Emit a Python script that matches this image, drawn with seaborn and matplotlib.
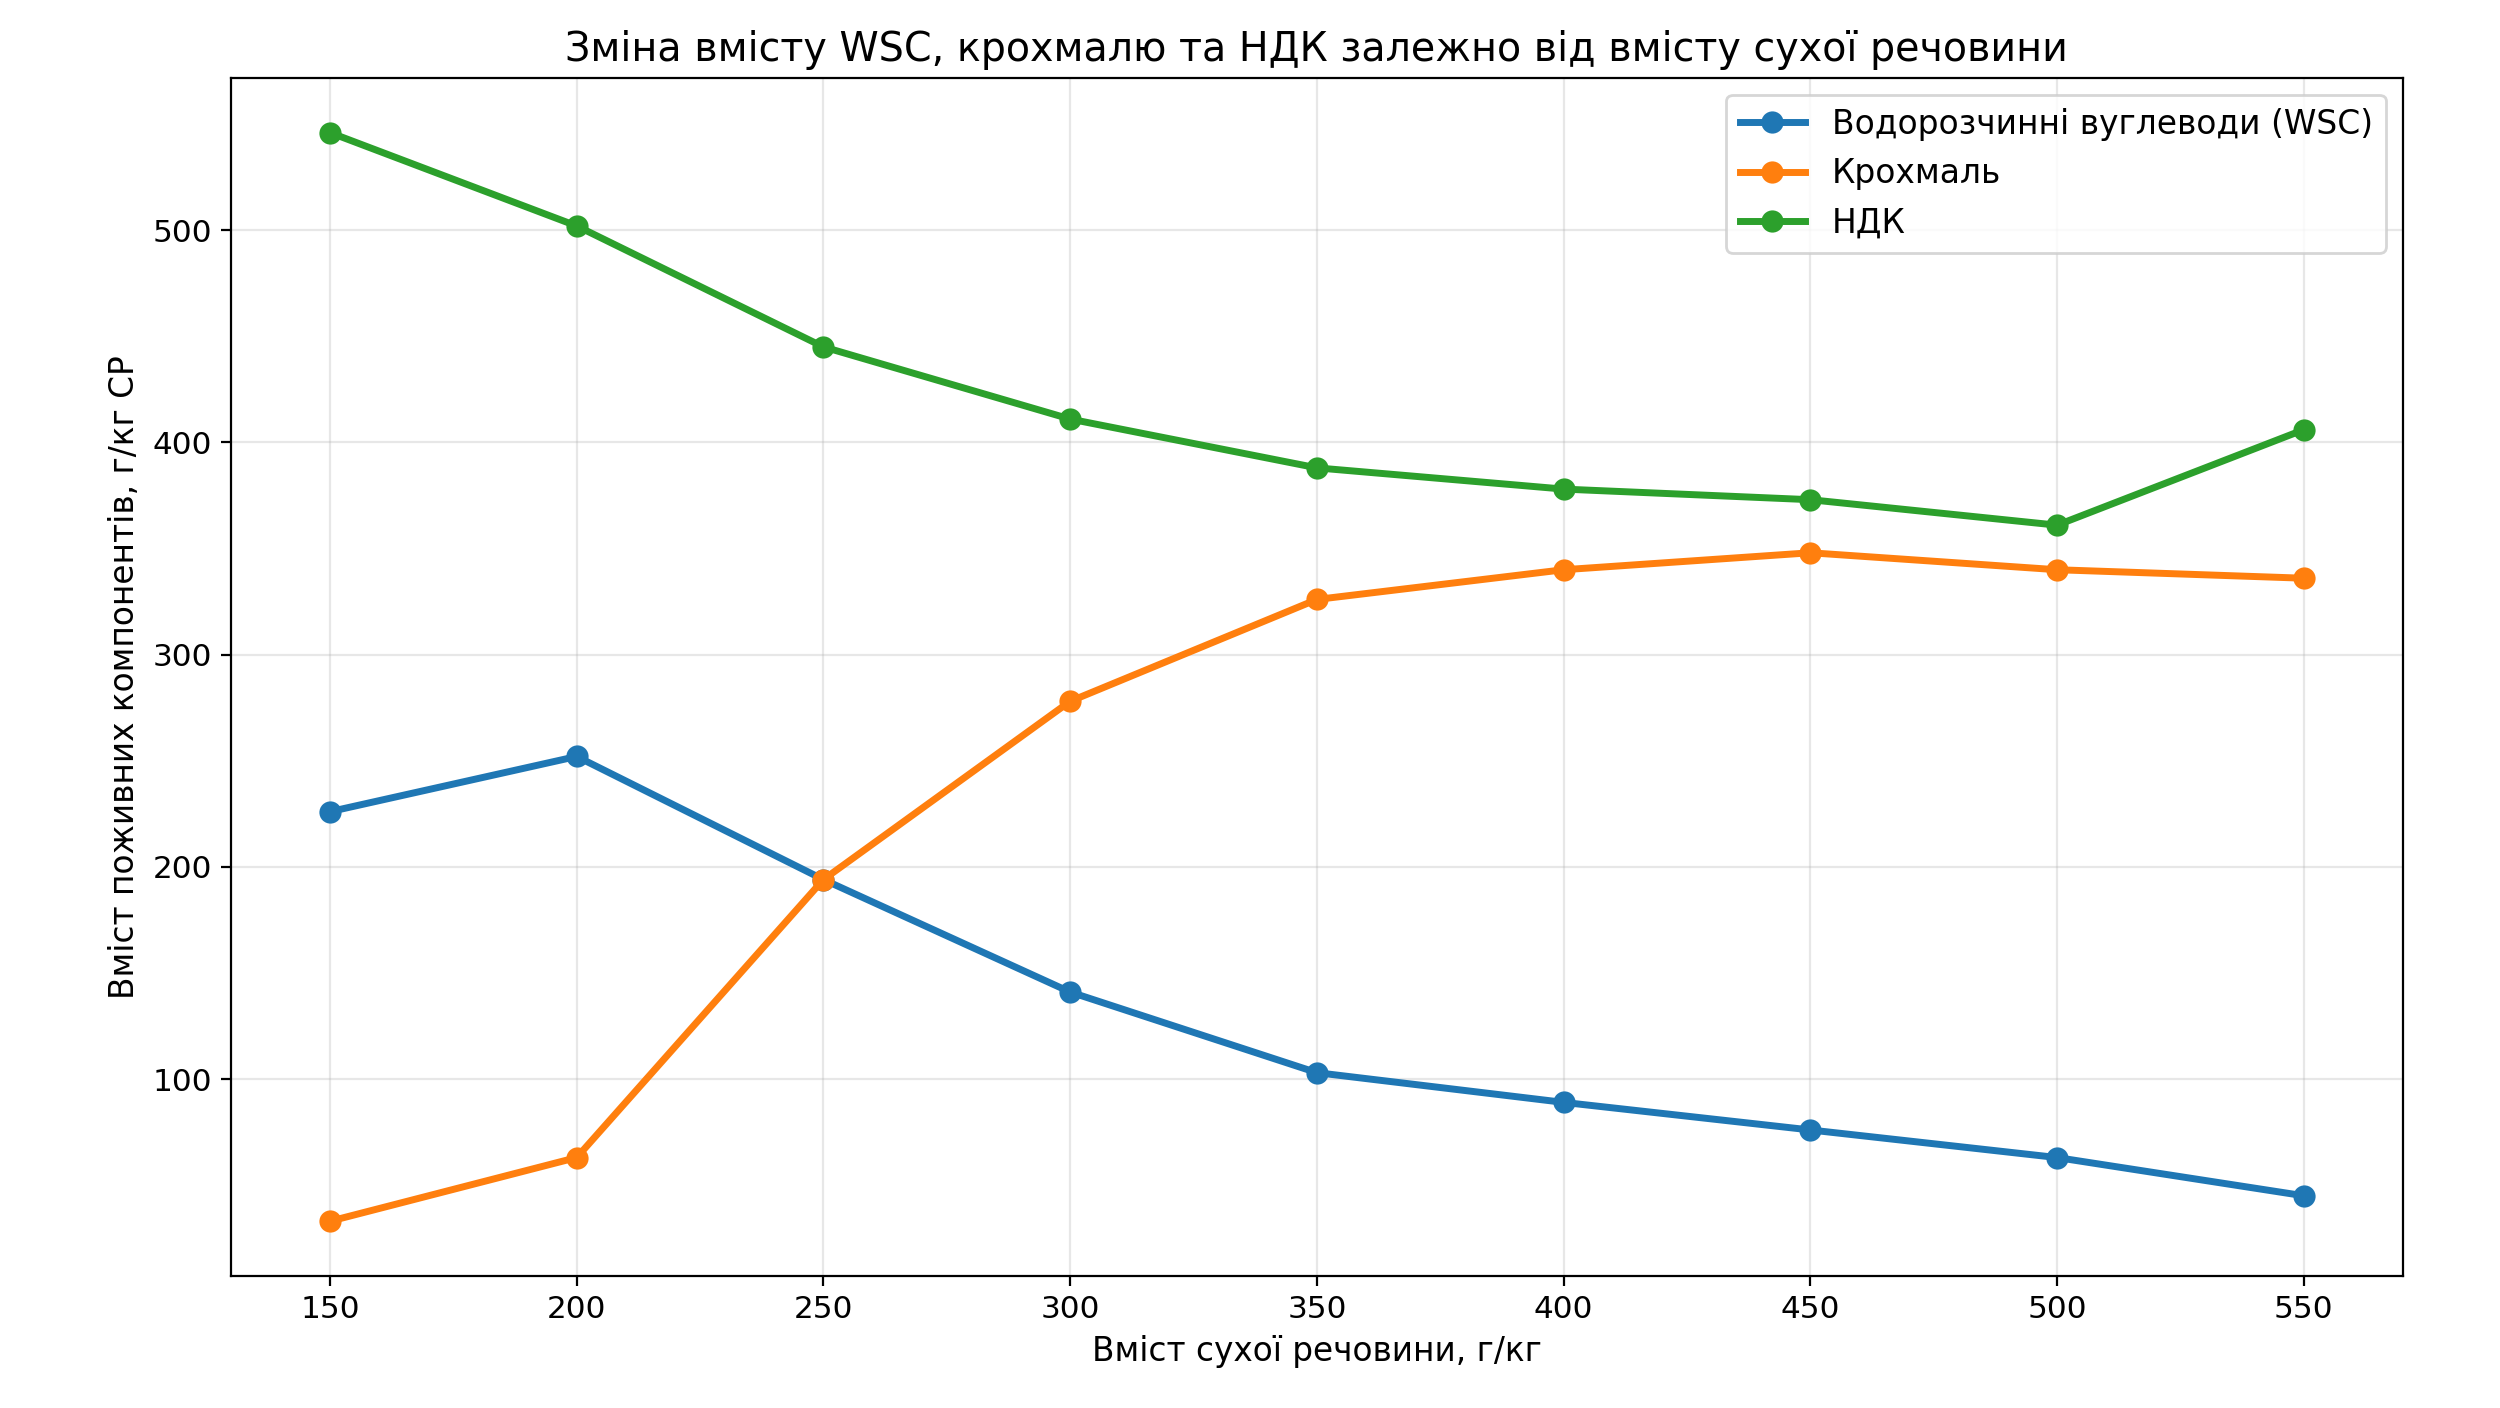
import numpy as np
import pandas as pd
import matplotlib.pyplot as plt
import seaborn as sns

# Дані: вміст сухої речовини та компоненти, г/кг СР
suha_rechovyna = [150, 200, 250, 300, 350, 400, 450, 500, 550]
wsc = [226, 252, 194, 141, 103, 89, 76, 63, 45]
krokhmal = [33, 63, 194, 278, 326, 340, 348, 340, 336]
ndk = [546, 502, 445, 411, 388, 378, 373, 361, 406]

nazvy = ["Водорозчинні вуглеводи (WSC)", "Крохмаль", "НДК"]

df = pd.DataFrame({
    "x": suha_rechovyna * 3,
    "y": wsc + krokhmal + ndk,
    "Компонент": [nazvy[0]] * 9 + [nazvy[1]] * 9 + [nazvy[2]] * 9,
})

plt.rcParams['font.family'] = ['DejaVu Sans']
fig, ax = plt.subplots(figsize=(12.5, 7.04), dpi=200)
fig.subplots_adjust(left=0.0925, right=0.961, top=0.9445, bottom=0.094)

sns.lineplot(
    data=df, x="x", y="y", hue="Компонент", hue_order=nazvy,
    palette=["#1f77b4", "#ff7f0e", "#2ca02c"],
    marker="o", markersize=8, linewidth=2.5,
    markeredgewidth=0, ax=ax
)

ax.set_title("Зміна вмісту WSC, крохмалю та НДК залежно від вмісту сухої речовини", fontsize=14.25)
ax.set_xlabel("Вміст сухої речовини, г/кг", fontsize=11.8)
ax.set_ylabel("Вміст поживних компонентів, г/кг СР", fontsize=11.8)
ax.set_xticks(suha_rechovyna)
ax.tick_params(labelsize=11.2)
ax.grid(True, alpha=0.3)
sns.move_legend(ax, "upper right", title=None, fontsize=11.85)

plt.savefig("out.png", dpi=200)
